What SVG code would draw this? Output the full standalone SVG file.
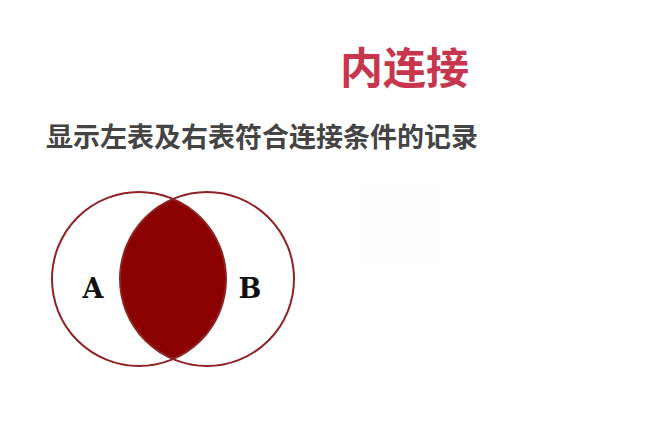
<svg xmlns="http://www.w3.org/2000/svg" width="652" height="424" viewBox="0 0 652 424">
<style>
.title{font-family:"Noto Sans CJK SC","Noto Sans",sans-serif;font-size:43px;font-weight:bold;fill:#c8364d}
.sub{font-family:"Noto Sans CJK SC","Noto Sans",sans-serif;font-size:27px;font-weight:bold;fill:#444444}
.lbl{font-family:"DejaVu Serif","Liberation Serif",serif;font-size:27px;font-weight:bold;fill:#111111}
.ring{fill:none;stroke:#8e2326;stroke-width:2}
</style>
<rect width="652" height="424" fill="#ffffff"/>
<rect x="360" y="183" width="80" height="80" fill="#fcfcfc"/>
<text class="title" x="340" y="84">内连接</text>
<text class="sub" x="46" y="147">显示左表及右表符合连接条件的记录</text>
<g id="venn">
<path d="M173,199 A87,87 0 0 1 173,359 A87,87 0 0 1 173,199 Z" fill="#8b0000"/>
<circle class="ring" cx="139" cy="279" r="87"/>
<circle class="ring" cx="207" cy="279" r="87"/>
<text class="lbl" x="93" y="298" text-anchor="middle">A</text>
<text class="lbl" x="250" y="298" text-anchor="middle">B</text>
</g>
</svg>
